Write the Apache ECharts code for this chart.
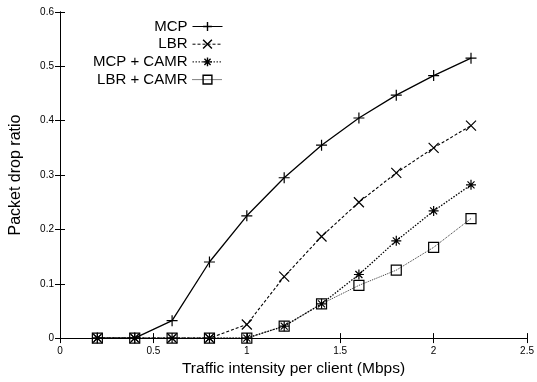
<!DOCTYPE html>
<html><head><meta charset="utf-8">
<script src="https://cdn.jsdelivr.net/npm/echarts@6/dist/echarts.min.js"></script>
<style>html,body{margin:0;padding:0;background:#fff}#c{width:537px;height:382px}</style>
</head><body><div id="c"></div>
<script>
const xValues = [0.2, 0.4, 0.6, 0.8, 1.0, 1.2, 1.4, 1.6, 1.8, 2.0, 2.2];
const mcp      = [0, 0, 0.032, 0.140, 0.225, 0.295, 0.355, 0.405, 0.447, 0.483, 0.515];
const lbr      = [0, 0, 0, 0, 0.025, 0.113, 0.187, 0.250, 0.304, 0.350, 0.391];
const mcpCamr  = [0, 0, 0, 0, 0, 0.022, 0.063, 0.117, 0.179, 0.234, 0.282];
const lbrCamr  = [0, 0, 0, 0, 0, 0.022, 0.063, 0.097, 0.125, 0.167, 0.220];
const seriesNames = ['MCP', 'LBR', 'MCP + CAMR', 'LBR + CAMR'];
const xTitle = 'Traffic intensity per client (Mbps)';
const yTitle = 'Packet drop ratio';

const FONT = 'Liberation Sans';
const plusPath = 'path://M5,0 L5,10 M0,5 L10,5';
const crossPath = 'path://M0,0 L10,10 M10,0 L0,10';
const starPath = 'path://M5,0 L5,10 M0,5 L10,5 M1.5,1.5 L8.5,8.5 M8.5,1.5 L1.5,8.5';

function pairs(vals){ return xValues.map((x,i)=>[x, vals[i]]); }
function mk(name, vals, symbol, size, lineType, lw, fillNone){
  return {
    name, type:'line', data:pairs(vals), symbol, symbolSize:size,
    showAllSymbol:true,
    lineStyle:{color:'#000', width:lw, type:lineType},
    itemStyle:{color: fillNone ? 'rgba(0,0,0,0)' : '#000', borderColor:'#000', borderWidth:1.2},
    emphasis:{disabled:true}, animation:false
  };
}
const axisCommon = {
  axisLine:{show:true, lineStyle:{color:'#000', width:1}},
  axisTick:{show:true, inside:true, length:5, lineStyle:{color:'#000'}},
  splitLine:{show:false}
};
const chart = echarts.init(document.getElementById('c'), null, {renderer:'canvas'});
chart.setOption({
  animation:false,
  backgroundColor:'#fff',
  grid:{left:59, top:12, right:8, bottom:38},
  legend:{
    orient:'vertical', align:'right', right:314, top:19, padding:0,
    itemWidth:30, itemHeight:11, itemGap:2.7,
    lineStyle:{width:1},
    itemStyle:{borderWidth:1.4, borderColor:'#000'},
    textStyle:{fontFamily:FONT, fontSize:15, color:'#000', padding:[0,0,0,0]},
    data:seriesNames
  },
  xAxis:[
    Object.assign({type:'value', min:0, max:2.5, interval:0.5, position:'bottom',
      name:xTitle, nameLocation:'middle', nameGap:21,
      nameTextStyle:{fontFamily:FONT, fontSize:15.5, color:'#000'},
      axisLabel:{fontFamily:FONT, fontSize:10, color:'#000', margin:8}}, axisCommon),
    Object.assign({type:'value', min:0, max:2.5, interval:0.5, position:'top',
      axisLabel:{show:false}}, axisCommon)
  ],
  yAxis:[
    Object.assign({type:'value', min:0, max:0.6, interval:0.1, position:'left',
      name:yTitle, nameLocation:'middle', nameGap:36,
      nameTextStyle:{fontFamily:FONT, fontSize:16, color:'#000'},
      axisLabel:{fontFamily:FONT, fontSize:10, color:'#000', margin:6,
        formatter:v=>String(Math.round(v*10)/10)}}, axisCommon),
    Object.assign({type:'value', min:0, max:0.6, interval:0.1, position:'right',
      axisLabel:{show:false}}, axisCommon)
  ],
  series:[
    mk(seriesNames[0], mcp, plusPath, 11, 'solid', 1.3, false),
    mk(seriesNames[1], lbr, crossPath, 10, [3,2], 1.1, false),
    mk(seriesNames[2], mcpCamr, starPath, 10, [1.5,1.5], 1.3, false),
    mk(seriesNames[3], lbrCamr, 'rect', 10, [1,1], 0.8, true)
  ]
});
</script></body></html>
